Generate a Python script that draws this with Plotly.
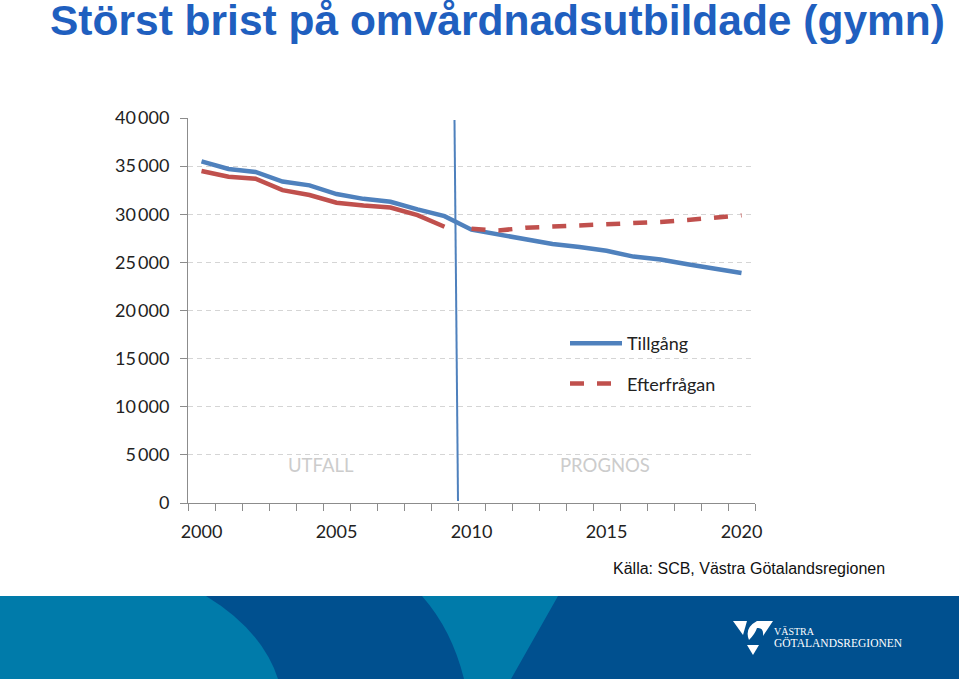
import plotly.graph_objects as go

W, H = 959, 679
years = list(range(2000, 2021))
tillgang = [35500, 34700, 34400, 33400, 33000, 32100, 31600, 31300, 30500, 29800, 28400,
            27900, 27500, 26900, 26600, 26200, 25600, 25300, 24800, 24400, 23900]
efter_years_utfall = list(range(2000, 2010))
efter_utfall = [34500, 33900, 33700, 32500, 32000, 31200, 30900, 30700, 29900, 28700]
efter_years_prognos = list(range(2010, 2021))
efter_prognos = [28500, 28300, 28600, 28700, 28900, 29000, 29100, 29200, 29400, 29700, 29900]
y_ticks = [0, 5000, 10000, 15000, 20000, 25000, 30000, 35000, 40000]
x_ticks = [2000, 2005, 2010, 2015, 2020]

BLUE, RED = "#4F81BD", "#C0504D"
DARK, TEAL = "#00508F", "#007BAA"
FONT = "Lato"

def px(x):
    return x / W
def py(y):
    return 1 - y / H

fig = go.Figure()
fig.add_trace(go.Scatter(x=years, y=tillgang, mode="lines", name="Tillgång",
                         legendgroup="a", line=dict(color=BLUE, width=4.5)))
fig.add_trace(go.Scatter(x=efter_years_utfall, y=efter_utfall, mode="lines", name="Efterfrågan utfall",
                         showlegend=False, line=dict(color=RED, width=4.5)))
fig.add_trace(go.Scatter(x=efter_years_prognos, y=efter_prognos, mode="lines", name="Efterfrågan",
                         legendgroup="b", line=dict(color=RED, width=4.5, dash="14px,13px")))

def poly(pts, color, layer="below"):
    d = "M " + " L ".join(f"{px(x):.5f},{py(y):.5f}" for x, y in pts) + " Z"
    return dict(type="path", xref="paper", yref="paper", path=d, fillcolor=color,
                line=dict(width=0), layer=layer)

def curve(d_pts, color, layer="below"):
    out = []
    for cmd, pts in d_pts:
        out.append(cmd + " " + " ".join(f"{px(x):.5f},{py(y):.5f}" for x, y in pts))
    return dict(type="path", xref="paper", yref="paper", path=" ".join(out) + " Z",
                fillcolor=color, line=dict(width=0), layer=layer)

shapes = [
    dict(type="rect", xref="paper", yref="paper", x0=0, x1=1, y0=0, y1=py(596),
         fillcolor=DARK, line=dict(width=0), layer="below"),
    curve([("M", [(0, 596)]), ("L", [(206, 596)]), ("Q", [(262, 630), (278, 679)]), ("L", [(0, 679)])], TEAL),
    curve([("M", [(422, 596)]), ("L", [(558, 596)]), ("L", [(511, 679)]), ("L", [(464, 679)]),
           ("Q", [(452, 630), (422, 596)])], TEAL),
    poly([(733, 621), (747, 621), (743, 635)], "white", "above"),
    poly([(747, 645), (759, 645), (753, 655)], "white", "above"),
    curve([("M", [(749, 640)]), ("Q", [(744, 628), (757, 621)]), ("L", [(773, 621)]), ("L", [(763, 636)]),
           ("Q", [(764, 627), (757, 628)]), ("Q", [(755, 634), (749, 640)])], "white", "above"),
    dict(type="line", xref="paper", yref="paper", x0=px(454.5), y0=py(120), x1=px(458), y1=py(501),
         line=dict(color=BLUE, width=2), layer="above"),
]

def txt(x, y, s, size, color, family=FONT, anchor="left", bold=False):
    return dict(xref="paper", yref="paper", x=px(x), y=py(y), text=f"<b>{s}</b>" if bold else s,
                showarrow=False, xanchor=anchor, yanchor="middle",
                font=dict(size=size, color=color, family=family))

annotations = [
    txt(48, 20, "Störst brist på omvårdnadsutbildade (gymn)", 42.5, "#1F5FBF", "Liberation Sans", bold=True),
    txt(611, 568, "Källa: SCB, Västra Götalandsregionen", 16, "#111111", "Liberation Sans"),
    txt(321, 465, "UTFALL", 18.5, "#CCCCCC", anchor="center"),
    txt(605, 465, "PROGNOS", 18.5, "#CCCCCC", anchor="center"),
    txt(772, 631, "VÄSTRA", 10, "white", "Liberation Serif"),
    txt(772, 642, "GÖTALANDSREGIONEN", 11.5, "white", "Liberation Serif"),
]

fig.update_layout(
    width=W, height=H, margin=dict(l=0, r=0, t=0, b=0, pad=0, autoexpand=False),
    paper_bgcolor="white", plot_bgcolor="white",
    separators=",\u2009",
    shapes=shapes, annotations=annotations,
    font=dict(family=FONT, color="#222222"),
    legend=dict(x=px(565), y=py(325), xanchor="left", yanchor="top", bgcolor="rgba(0,0,0,0)",
                font=dict(size=18, color="#222222", family=FONT),
                itemwidth=52, tracegroupgap=14, groupclick="toggleitem"),
    xaxis=dict(domain=[px(188), px(755)], anchor="y", range=[1999.5, 2020.5],
               tickmode="array", tickvals=x_ticks, ticktext=[str(v) for v in x_ticks],
               ticks="", showgrid=False, zeroline=False, showline=True, linecolor="#8C8C8C", linewidth=1,
               tickfont=dict(size=18, color="#222222"), ticklabelstandoff=12,
               minor=dict(tick0=1999.5, dtick=1, ticks="outside", ticklen=7, tickcolor="#8C8C8C",
                          tickwidth=1, showgrid=False)),
    yaxis=dict(domain=[py(503), py(118)], anchor="x", range=[0, 40000],
               tickmode="array", tickvals=y_ticks, tickformat=",d",
               ticks="outside", ticklen=7, tickcolor="#8C8C8C", showline=True, linecolor="#8C8C8C", linewidth=1,
               showgrid=True, gridcolor="#D5D5D5", griddash="5px,4px", gridwidth=1, zeroline=False,
               tickfont=dict(size=18, color="#222222"), ticklabelstandoff=7),
)

fig.write_html("out.html", config=dict(displayModeBar=False),
               post_script="document.body.style.margin='0';document.body.style.overflow='hidden';")
